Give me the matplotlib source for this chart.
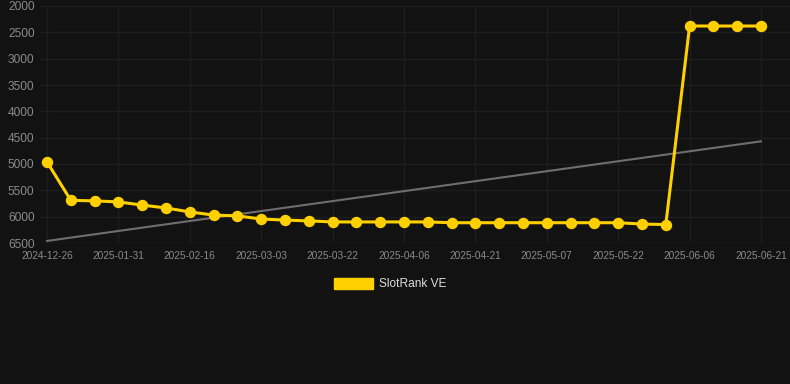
import numpy as np
import matplotlib
matplotlib.use("Agg")
import matplotlib.pyplot as plt
from matplotlib.patches import Patch

dates = ["2024-12-26", "2025-01-20", "2025-01-26", "2025-01-31", "2025-02-05",
         "2025-02-11", "2025-02-16", "2025-02-21", "2025-02-26", "2025-03-03",
         "2025-03-09", "2025-03-16", "2025-03-22", "2025-03-27", "2025-04-01",
         "2025-04-06", "2025-04-11", "2025-04-16", "2025-04-21", "2025-04-26",
         "2025-05-02", "2025-05-07", "2025-05-12", "2025-05-17", "2025-05-22",
         "2025-05-27", "2025-06-01", "2025-06-06", "2025-06-11", "2025-06-16",
         "2025-06-21"]
rank = [4960, 5690, 5700, 5720, 5780, 5835, 5910, 5970, 5985, 6045,
        6065, 6080, 6100, 6100, 6100, 6100, 6100, 6115, 6115, 6115,
        6115, 6115, 6115, 6115, 6115, 6140, 6150, 2380, 2380, 2380, 2380]
series_name = "SlotRank VE"
y_ticks = [2000, 2500, 3000, 3500, 4000, 4500, 5000, 5500, 6000, 6500]

BG = "#121212"
GOLD = "#FFD000"
GRID = "#1d1d1d"
TICK = "#8a8a8a"

plt.rcParams['font.family'] = ['Liberation Sans', 'DejaVu Sans']

fig = plt.figure(figsize=(7.9, 3.84), dpi=100, facecolor=BG)
W, H = 790, 384
left, right, top, bottom = 40, 790, 6, 243
ax = fig.add_axes([left / W, 1 - bottom / H, (right - left) / W, (bottom - top) / H])
ax.set_facecolor(BG)

x = np.arange(len(rank))
# trend line (linear fit)
coef = np.polyfit(x, rank, 1)
ax.plot(x, np.polyval(coef, x), color="#6e6e6e", lw=1.5, zorder=2)

ax.plot(x, rank, color=GOLD, lw=2.2, marker="o", markersize=7.2,
        markerfacecolor=GOLD, markeredgecolor=GOLD, zorder=3)

# x limits: index 0 at px 47, spacing 23.8 px
sp = (761 - 47) / 30
ax.set_xlim((left - 47) / sp, (right - 47) / sp)
ax.set_ylim(6500, 2000)

tick_idx = list(range(0, len(dates), 3))
ax.set_xticks(tick_idx)
ax.set_xticklabels([dates[i] for i in tick_idx])
ax.set_yticks(y_ticks)
ax.set_yticklabels([str(v) for v in y_ticks])

ax.tick_params(axis="x", length=0, pad=6, labelsize=7.3, colors=TICK)
ax.tick_params(axis="y", length=0, pad=4, labelsize=8.6, colors=TICK)
ax.grid(True, color=GRID, lw=1)
ax.set_axisbelow(True)
for s in ax.spines.values():
    s.set_visible(False)

leg = fig.legend(handles=[Patch(facecolor=GOLD, edgecolor=GOLD, label=series_name)],
                 loc="center", bbox_to_anchor=(390 / W, 1 - 284 / H),
                 frameon=False, fontsize=8.6, handlelength=3.3, handleheight=1.15,
                 handletextpad=0.5)
for t in leg.get_texts():
    t.set_color("#dddddd")

fig.savefig("out.png", dpi=100, facecolor=BG)
